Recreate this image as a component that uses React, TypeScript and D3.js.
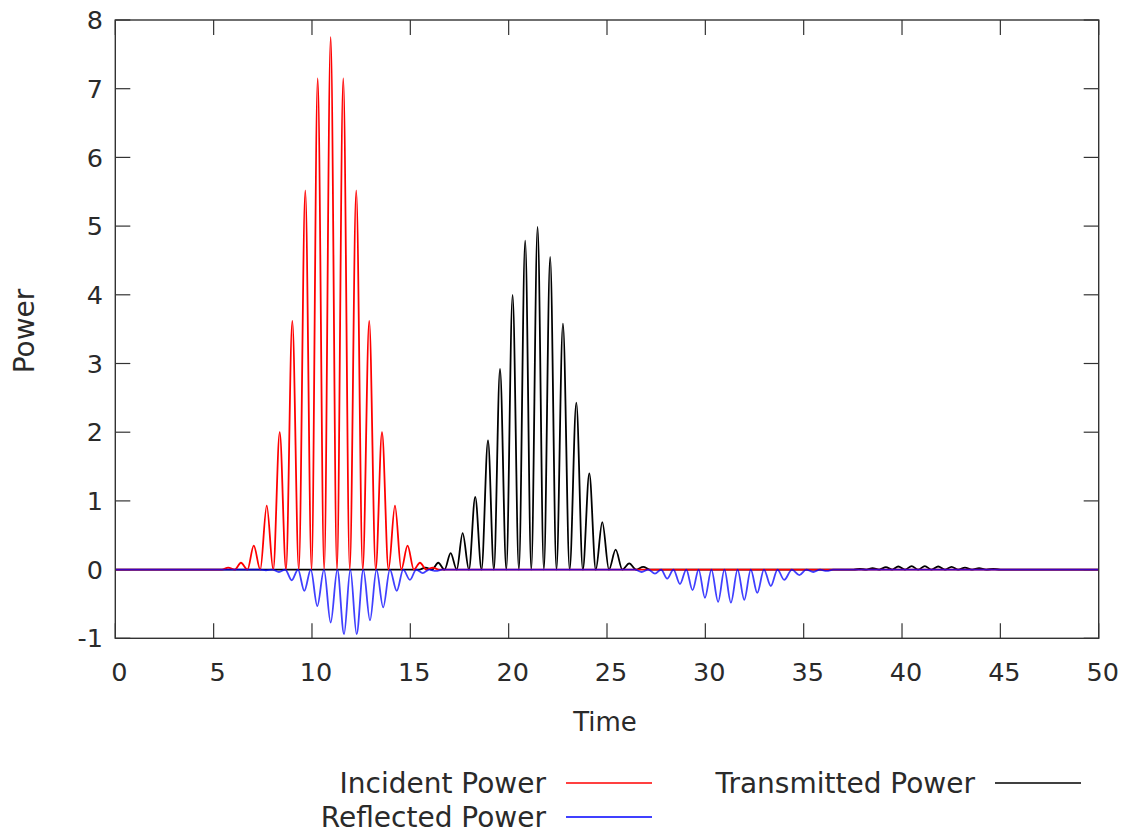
import React from "react";
import * as d3 from "d3";

type Pt = [number, number];

const xTicks = [0, 5, 10, 15, 20, 25, 30, 35, 40, 45, 50];
const yTicks = [-1, 0, 1, 2, 3, 4, 5, 6, 7, 8];

// [time, power]: peaks/troughs and the zero crossings between them
const incidentPower: Pt[] = [
  [0, 0], [5.42, 0], [5.74, 0.03], [6.07, 0], [6.39, 0.1], [6.72, 0], [7.04, 0.35], [7.37, 0],
  [7.7, 0.93], [8.03, 0], [8.36, 2.0], [8.68, 0], [9.0, 3.62], [9.33, 0], [9.66, 5.52], [9.98, 0],
  [10.29, 7.15], [10.62, 0], [10.95, 7.75], [11.27, 0], [11.59, 7.15], [11.92, 0], [12.25, 5.52],
  [12.58, 0], [12.91, 3.62], [13.24, 0], [13.56, 2.0], [13.89, 0], [14.22, 0.93], [14.54, 0],
  [14.86, 0.35], [15.18, 0], [15.49, 0.1], [15.82, 0], [16.14, 0.03], [16.46, 0], [50, 0],
];

const reflectedPower: Pt[] = [
  [0, 0], [7.34, 0], [7.66, -0.01], [7.99, 0], [8.32, -0.035], [8.64, 0], [8.97, -0.155], [9.29, 0],
  [9.61, -0.31], [9.94, 0], [10.27, -0.53], [10.61, 0], [10.95, -0.77], [11.29, 0], [11.63, -0.94],
  [11.95, 0], [12.27, -0.94], [12.61, 0], [12.95, -0.74], [13.28, 0], [13.62, -0.55], [13.96, 0],
  [14.31, -0.31], [14.64, 0], [14.98, -0.15], [15.3, 0], [15.63, -0.05], [15.96, 0], [16.3, -0.02],
  [16.62, 0], [26.42, 0], [26.76, -0.035], [27.1, 0], [27.44, -0.06], [27.75, 0], [28.06, -0.13],
  [28.38, 0], [28.71, -0.21], [29.03, 0], [29.35, -0.3], [29.66, 0], [29.98, -0.41], [30.31, 0],
  [30.65, -0.47], [30.97, 0], [31.3, -0.48], [31.64, 0], [31.98, -0.44], [32.31, 0], [32.64, -0.34],
  [32.98, 0], [33.33, -0.24], [33.67, 0], [34.01, -0.15], [34.4, 0], [34.78, -0.08], [35.13, 0],
  [35.49, -0.035], [35.83, 0], [36.17, -0.02], [36.5, 0], [50, 0],
];

const transmittedPower: Pt[] = [
  [0, 0], [15.45, 0], [15.77, 0.03], [16.1, 0], [16.42, 0.1], [16.74, 0], [17.05, 0.24], [17.36, 0],
  [17.66, 0.53], [17.98, 0], [18.3, 1.06], [18.62, 0], [18.95, 1.88], [19.25, 0], [19.56, 2.92],
  [19.88, 0], [20.2, 4.0], [20.52, 0], [20.84, 4.79], [21.15, 0], [21.47, 4.99], [21.79, 0],
  [22.11, 4.55], [22.43, 0], [22.76, 3.58], [23.1, 0], [23.44, 2.43], [23.77, 0], [24.1, 1.4],
  [24.43, 0], [24.76, 0.69], [25.1, 0], [25.44, 0.29], [25.78, 0], [26.13, 0.09], [26.48, 0],
  [26.84, 0.04], [27.2, 0], [37.54, 0], [37.86, 0.01], [38.18, 0], [38.5, 0.02], [38.84, 0],
  [39.18, 0.035], [39.5, 0], [39.81, 0.045], [40.15, 0], [40.49, 0.05], [40.82, 0], [41.16, 0.05],
  [41.5, 0], [41.84, 0.045], [42.18, 0], [42.52, 0.04], [42.86, 0], [43.2, 0.03], [43.56, 0],
  [43.92, 0.02], [44.28, 0], [44.64, 0.01], [45.0, 0], [50, 0],
];

const seriesNames = ["Incident Power", "Reflected Power", "Transmitted Power"];
const seriesColors = ["#ff0000", "#0000ff", "#000000"];

const FONT = "DejaVu Sans, sans-serif";

export default function App() {
  const W = 1126;
  const H = 833;
  const L = 115.3, T = 20, R = 1098.7, B = 638.3;
  const x = d3.scaleLinear().domain([0, 50]).range([L, R]);
  const y = d3.scaleLinear().domain([-1, 8]).range([B, T]);
  const line = d3
    .line<Pt>()
    .x((d) => x(d[0]))
    .y((d) => y(d[1]))
    .curve(d3.curveMonotoneX);
  const tick = 15;
  const axisColor = "#333";
  const textColor = "#2a2a2a";
  const fsTick = 25.5;
  const fs = 28;

  const legend = [
    { name: seriesNames[0], color: seriesColors[0], tx: 546, lx: 566, yy: 783 },
    { name: seriesNames[1], color: seriesColors[1], tx: 546, lx: 566, yy: 817 },
    { name: seriesNames[2], color: seriesColors[2], tx: 975, lx: 995, yy: 783 },
  ];

  return (
    <svg
      width={W}
      height={H}
      style={{ position: "absolute", left: 0, top: 0, background: "#fff" }}
      fontFamily={FONT}
    >
      <rect x={0} y={0} width={W} height={H} fill="#fff" />
      <defs>
        <clipPath id="plotClip">
          <rect x={L} y={T} width={R - L} height={B - T} />
        </clipPath>
      </defs>
      {xTicks.map((t) => (
        <g key={"xt" + t}>
          <line x1={x(t)} x2={x(t)} y1={B} y2={B - tick} stroke={axisColor} strokeWidth={1.2} />
          <line x1={x(t)} x2={x(t)} y1={T} y2={T + tick} stroke={axisColor} strokeWidth={1.2} />
          <text x={x(t) + 4} y={B + 43} textAnchor="middle" fontSize={fsTick} fill={textColor}>
            {t}
          </text>
        </g>
      ))}
      {yTicks.map((t) => (
        <g key={"yt" + t}>
          <line x1={L} x2={L + tick} y1={y(t)} y2={y(t)} stroke={axisColor} strokeWidth={1.2} />
          <line x1={R} x2={R - tick} y1={y(t)} y2={y(t)} stroke={axisColor} strokeWidth={1.2} />
          <text x={103} y={y(t)} dy="0.36em" textAnchor="end" fontSize={fsTick} fill={textColor}>
            {t}
          </text>
        </g>
      ))}
      <g clipPath="url(#plotClip)" fill="none" strokeWidth={1.8}>
        <path d={line(transmittedPower) || ""} stroke={seriesColors[2]} />
        <path d={line(incidentPower) || ""} stroke={seriesColors[0]} />
        <path d={line(reflectedPower) || ""} stroke={seriesColors[1]} strokeOpacity={0.75} />
      </g>
      <rect x={L} y={T} width={R - L} height={B - T} fill="none" stroke={axisColor} strokeWidth={1.4} />
      <text x={605} y={731} textAnchor="middle" fontSize={26} fill={textColor}>
        Time
      </text>
      <text
        transform={`translate(34,331) rotate(-90)`}
        textAnchor="middle"
        fontSize={fs}
        fill={textColor}
      >
        Power
      </text>
      {legend.map((l) => (
        <g key={l.name}>
          <text x={l.tx} y={l.yy} dy="0.34em" textAnchor="end" fontSize={fs} fill={textColor}>
            {l.name}
          </text>
          <line x1={l.lx} x2={l.lx + 86} y1={l.yy} y2={l.yy} stroke={l.color} strokeWidth={1.6} />
        </g>
      ))}
    </svg>
  );
}
